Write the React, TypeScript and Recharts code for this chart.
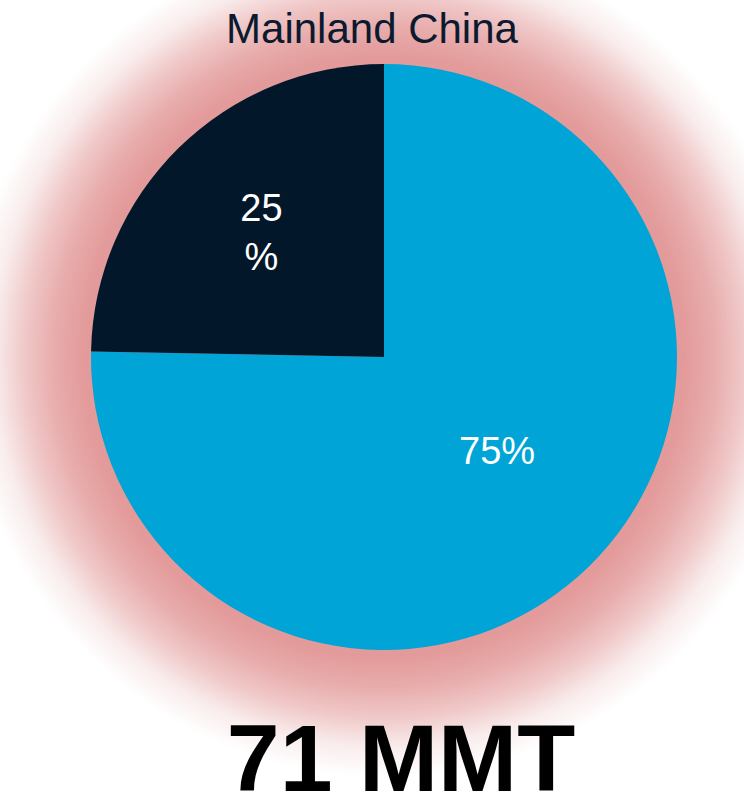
import React from "react";
import { PieChart, Pie, Cell } from "recharts";

const title = "Mainland China";
const totalLabel = "71 MMT";
const categories = ["Share A", "Share B"];
const values = [75.3, 24.7];
const sliceLabels = [["75%"], ["25", "%"]];
const glowValues = [1];

const COLORS = ["#00A4D6", "#02172A"];
const LABEL_RADIUS = [150, 175];
const LABEL_OFFSET = [
  [8, -14],
  [0, 0],
];

const data = categories.map((name, i) => ({ name, value: values[i] }));
const glowData = glowValues.map((v) => ({ name: "glow", value: v }));

const RAD = Math.PI / 180;

const renderLabel = (props: any) => {
  const { cx, cy, midAngle, index } = props;
  const r = LABEL_RADIUS[index];
  const x = cx + Math.cos(-midAngle * RAD) * r + LABEL_OFFSET[index][0];
  const y = cy + Math.sin(-midAngle * RAD) * r + LABEL_OFFSET[index][1];
  const lines = sliceLabels[index];
  const lh = 49;
  const b1 = y + 13.5 - ((lines.length - 1) * lh) / 2;
  return (
    <text
      key={`lbl-${index}`}
      x={x}
      y={b1}
      fill="#ffffff"
      textAnchor="middle"
      fontSize={38}
      fontFamily="'Liberation Sans', Arial, sans-serif"
    >
      {lines.map((l, i) => (
        <tspan key={i} x={x} y={b1 + i * lh}>
          {l}
        </tspan>
      ))}
    </text>
  );
};

export default function App() {
  return (
    <div style={{ position: "absolute", left: 0, top: 0, width: 744, height: 800, background: "#ffffff", overflow: "hidden" }}>
      <svg width={0} height={0} style={{ position: "absolute" }}>
        <defs>
          <radialGradient id="glowGrad" gradientUnits="userSpaceOnUse" cx={384} cy={357} r={420}>
            <stop offset="0" stopColor="#E39A9A" />
            <stop offset={300 / 420} stopColor="#E39A9A" />
            <stop offset={330 / 420} stopColor="#E8ACAC" />
            <stop offset={360 / 420} stopColor="#F0C8C8" />
            <stop offset={390 / 420} stopColor="#F9ECEC" />
            <stop offset="1" stopColor="#FFFFFF" />
          </radialGradient>
        </defs>
      </svg>
      <div style={{ position: "absolute", left: 0, top: 0 }}>
        <PieChart width={744} height={800} margin={{ top: 0, right: 0, bottom: 0, left: 0 }}>
          <Pie
            data={glowData}
            dataKey="value"
            cx={384}
            cy={357}
            innerRadius={0}
            outerRadius={420}
            startAngle={90}
            endAngle={-270}
            stroke="none"
            fill="url(#glowGrad)"
            isAnimationActive={false}
            label={false}
            labelLine={false}
          />
          <Pie
            data={data}
            dataKey="value"
            cx={384}
            cy={357}
            innerRadius={0}
            outerRadius={293}
            startAngle={90}
            endAngle={-270}
            stroke="none"
            isAnimationActive={false}
            labelLine={false}
            label={renderLabel}
          >
            {data.map((d, i) => (
              <Cell key={d.name} fill={COLORS[i]} />
            ))}
          </Pie>
        </PieChart>
      </div>
      <svg width={744} height={800} style={{ position: "absolute", left: 0, top: 0, pointerEvents: "none" }}>
        <text x={372} y={43} textAnchor="middle" fontSize={42} fill="#0B1A2E" fontFamily="'Liberation Sans', Arial, sans-serif">
          {title}
        </text>
        <text x={401} y={791} textAnchor="middle" fontSize={95} fontWeight="bold" fill="#000000" fontFamily="'Liberation Sans', Arial, sans-serif">
          {totalLabel}
        </text>
      </svg>
    </div>
  );
}
